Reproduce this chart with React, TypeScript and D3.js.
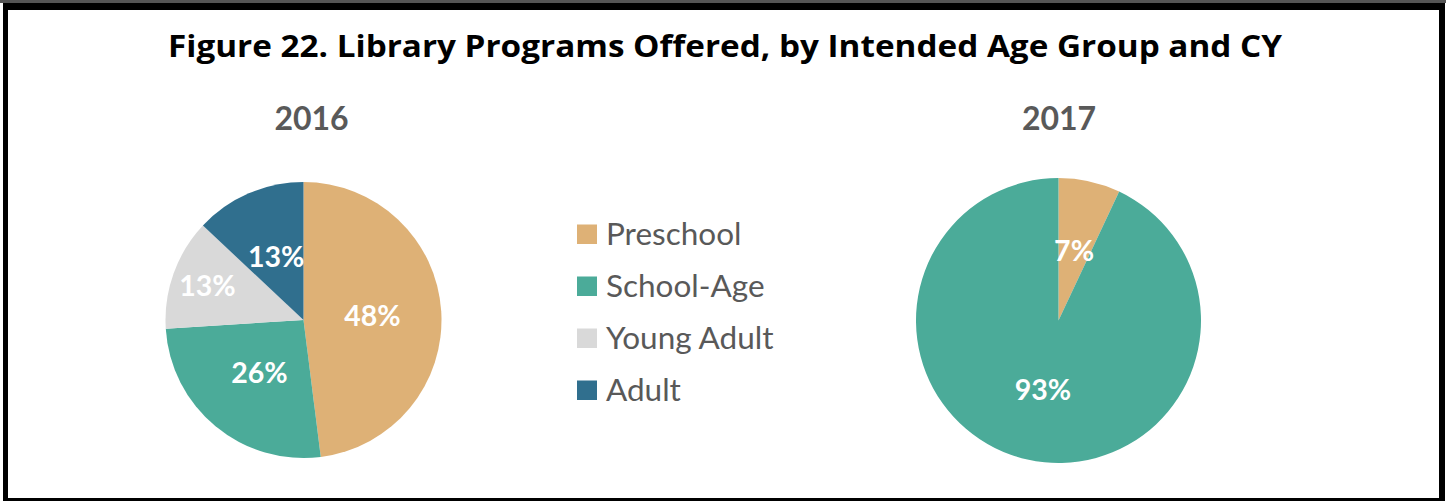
import React from "react";
import * as d3 from "d3";

const W = 1447;
const H = 501;

const title = "Figure 22. Library Programs Offered, by Intended Age Group and CY";
const categories = ["Preschool", "School-Age", "Young Adult", "Adult"];
const colors = ["#DEB176", "#4BAB99", "#D9D9D9", "#306F8E"];
const years = ["2016", "2017"];
const values2016 = [48, 26, 13, 13];
const values2017 = [7, 93, 0, 0];

// label distance from centre, as a share of the radius (Excel "best fit")
const labelRadius = [0.5, 0.5, 0.74, 0.5];

const pies = [
  { year: years[0], values: values2016, cx: 303.5, cy: 320, r: 138, yearX: 311.5 },
  { year: years[1], values: values2017, cx: 1058.5, cy: 320.5, r: 142.5, yearX: 1059 },
];

const font = "Lato, 'Open Sans', sans-serif";
const titleFont = "'Open Sans', Lato, sans-serif";

const PieChart: React.FC<{ values: number[]; cx: number; cy: number; r: number }> = ({
  values,
  cx,
  cy,
  r,
}) => {
  const total = d3.sum(values);
  const arcs = d3
    .pie<number>()
    .sort(null)
    .value((d) => d)(values);
  const arc = d3.arc<d3.PieArcDatum<number>>().innerRadius(0).outerRadius(r);

  return (
    <g transform={`translate(${cx},${cy})`}>
      {arcs.map((a, i) =>
        a.value > 0 ? <path key={i} d={arc(a) || ""} fill={colors[i]} /> : null
      )}
      {arcs.map((a, i) => {
        if (a.value <= 0) return null;
        const lr = r * labelRadius[i];
        const [lx, ly] = d3
          .arc<d3.PieArcDatum<number>>()
          .innerRadius(lr)
          .outerRadius(lr)
          .centroid(a);
        return (
          <text
            key={"l" + i}
            x={lx}
            y={ly}
            dy="0.36em"
            textAnchor="middle"
            fill="#ffffff"
            fontFamily={font}
            fontWeight={700}
            fontSize={28.5}
          >
            {`${Math.round((a.value / total) * 100)}%`}
          </text>
        );
      })}
    </g>
  );
};

const App: React.FC = () => {
  const legendY = d3.scaleBand<string>().domain(categories).range([208, 416]);

  return (
    <div style={{ position: "absolute", left: 0, top: 0, width: W, height: H }}>
      <svg width={W} height={H} style={{ display: "block" }}>
        <rect x={0} y={0} width={W} height={H} fill="#ffffff" />

        {/* frame */}
        <rect x={0} y={0} width={1446} height={3} fill="#555555" />
        <rect x={3} y={3} width={1442} height={7} fill="#000000" />
        <rect x={3} y={3} width={5} height={498} fill="#000000" />
        <rect x={1439} y={3} width={6} height={498} fill="#000000" />
        <rect x={3} y={498} width={1442} height={3} fill="#000000" />

        <text
          x={725}
          y={57}
          textAnchor="middle"
          fontFamily={titleFont}
          fontWeight={700}
          fontSize={30.5}
          fill="#000000"
          textLength={1114}
          lengthAdjust="spacingAndGlyphs"
        >
          {title}
        </text>

        {pies.map((p) => (
          <g key={p.year}>
            <text
              x={p.yearX}
              y={130}
              textAnchor="middle"
              fontFamily={font}
              fontWeight={700}
              fontSize={32}
              fill="#595959"
            >
              {p.year}
            </text>
            <PieChart values={p.values} cx={p.cx} cy={p.cy} r={p.r} />
          </g>
        ))}

        {categories.map((c, i) => {
          const y = (legendY(c) || 0) + legendY.bandwidth() / 2;
          return (
            <g key={c} transform={`translate(0,${y})`}>
              <rect x={577} y={-9.5} width={20} height={19.5} fill={colors[i]} />
              <text
                x={606}
                y={0}
                dy="0.36em"
                fontFamily={font}
                fontSize={31.5}
                fill="#595959"
              >
                {c}
              </text>
            </g>
          );
        })}
      </svg>
    </div>
  );
};

export default App;
